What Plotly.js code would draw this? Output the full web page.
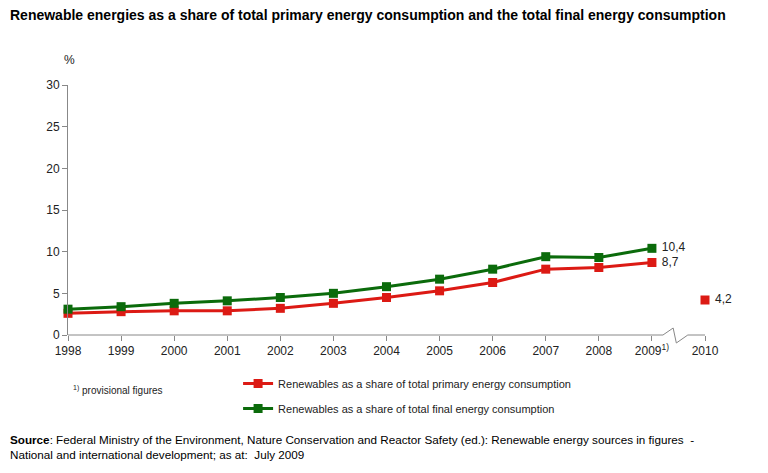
<!DOCTYPE html>
<html>
<head>
<meta charset="utf-8">
<script src="https://cdn.plot.ly/plotly-3.0.1.min.js"></script>
<style>html,body{margin:0;padding:0;background:#fff;}#chart{width:768px;height:473px;}</style>
</head>
<body>
<div id="chart"></div>
<script>
var years = [1998, 1999, 2000, 2001, 2002, 2003, 2004, 2005, 2006, 2007, 2008, 2009];
var primaryShare = [2.6, 2.8, 2.9, 2.9, 3.2, 3.8, 4.5, 5.3, 6.3, 7.9, 8.1, 8.7];
var finalShare = [3.1, 3.4, 3.8, 4.1, 4.5, 5.0, 5.8, 6.7, 7.9, 9.4, 9.3, 10.4];
var targetYear = [2010];
var targetPrimary = [4.2];
var tickYears = [1998, 1999, 2000, 2001, 2002, 2003, 2004, 2005, 2006, 2007, 2008, 2009, 2010];
var tickLabels = ['1998', '1999', '2000', '2001', '2002', '2003', '2004', '2005', '2006', '2007', '2008', '2009<sup>1)</sup>', '2010'];
var primaryName = 'Renewables as a share of total primary energy consumption';
var finalName = 'Renewables as a share of total final energy consumption';

var RED = '#dc1a14';
var GREEN = '#0b6b0b';
var FONT = 'Liberation Sans, Arial, sans-serif';

function lastLabel(arr) {
  return arr.map(function (v, i) { return i === arr.length - 1 ? '\u00a0' + v.toFixed(1).replace('.', ',') : ''; });
}

var traces = [
  {
    x: years, y: primaryShare, name: primaryName, legendgroup: 'p', type: 'scatter', mode: 'lines+markers+text',
    line: {color: RED, width: 3}, marker: {symbol: 'square', size: 9, color: RED},
    text: lastLabel(primaryShare), textposition: 'middle right',
    textfont: {family: FONT, size: 12, color: '#222'}, cliponaxis: false, hoverinfo: 'x+y'
  },
  {
    x: years, y: finalShare, name: finalName, legendgroup: 'f', type: 'scatter', mode: 'lines+markers+text',
    line: {color: GREEN, width: 3}, marker: {symbol: 'square', size: 9, color: GREEN},
    text: lastLabel(finalShare), textposition: 'middle right',
    textfont: {family: FONT, size: 12, color: '#222'}, cliponaxis: false, hoverinfo: 'x+y'
  },
  {
    x: targetYear, y: targetPrimary, name: primaryName, showlegend: false, type: 'scatter', mode: 'markers+text',
    marker: {symbol: 'square', size: 9, color: RED},
    text: lastLabel(targetPrimary), textposition: 'middle right',
    textfont: {family: FONT, size: 12, color: '#222'}, cliponaxis: false, hoverinfo: 'x+y'
  }
];

var layout = {
  width: 768, height: 473,
  margin: {l: 68, r: 63, t: 85, b: 138},
  paper_bgcolor: '#fff', plot_bgcolor: '#fff',
  font: {family: FONT, size: 12, color: '#222'},
  showlegend: true,
  legend: {x: 0.267, y: -0.136, xanchor: 'left', yanchor: 'top', orientation: 'v',
    font: {family: FONT, size: 11, color: '#222'}, tracegroupgap: 6, itemwidth: 30, bgcolor: 'rgba(0,0,0,0)'},
  xaxis: {
    range: [1998, 2010], tickmode: 'array', tickvals: tickYears, ticktext: tickLabels,
    showline: false, showgrid: false, zeroline: false,
    ticks: 'outside', ticklen: 5, tickcolor: '#888', tickfont: {family: FONT, size: 12, color: '#222'}
  },
  yaxis: {
    range: [0, 30], dtick: 5, showline: true, linecolor: '#888', linewidth: 1,
    showgrid: false, zeroline: false, ticks: 'outside', ticklen: 5, tickcolor: '#888',
    tickfont: {family: FONT, size: 12, color: '#222'}
  },
  shapes: [
    {type: 'path', xref: 'paper', yref: 'paper',
     path: 'M 0,0 L 0.934,0 L 0.950,0.028 L 0.955,-0.032 L 0.973,0 L 1,0',
     line: {color: '#888', width: 1}}
  ],
  annotations: [
    {xref: 'paper', yref: 'paper', x: -0.094, y: 1.28, xanchor: 'left', yanchor: 'middle', showarrow: false,
     text: '<b>Renewable energies as a share of total primary energy consumption and the total final energy consumption</b>',
     font: {family: FONT, size: 14, color: '#000'}},
    {xref: 'paper', yref: 'paper', x: -0.01, y: 1.1, xanchor: 'left', yanchor: 'middle', showarrow: false,
     text: '%', font: {family: FONT, size: 12, color: '#222'}},
    {xref: 'paper', yref: 'paper', x: 0.005, y: -0.22, xanchor: 'left', yanchor: 'middle', showarrow: false,
     text: '<sup>1)</sup> provisional figures', font: {family: FONT, size: 10, color: '#222'}},
    {xref: 'paper', yref: 'paper', x: -0.094, y: -0.385, xanchor: 'left', yanchor: 'top', showarrow: false, align: 'left',
     text: '<b>Source</b>: Federal Ministry of the Environment, Nature Conservation and Reactor Safety (ed.): Renewable energy sources in figures  -<br>National and international development; as at:  July 2009',
     font: {family: FONT, size: 11.7, color: '#000'}}
  ]
};

Plotly.newPlot('chart', traces, layout, {displayModeBar: false, staticPlot: true});
</script>
</body>
</html>
